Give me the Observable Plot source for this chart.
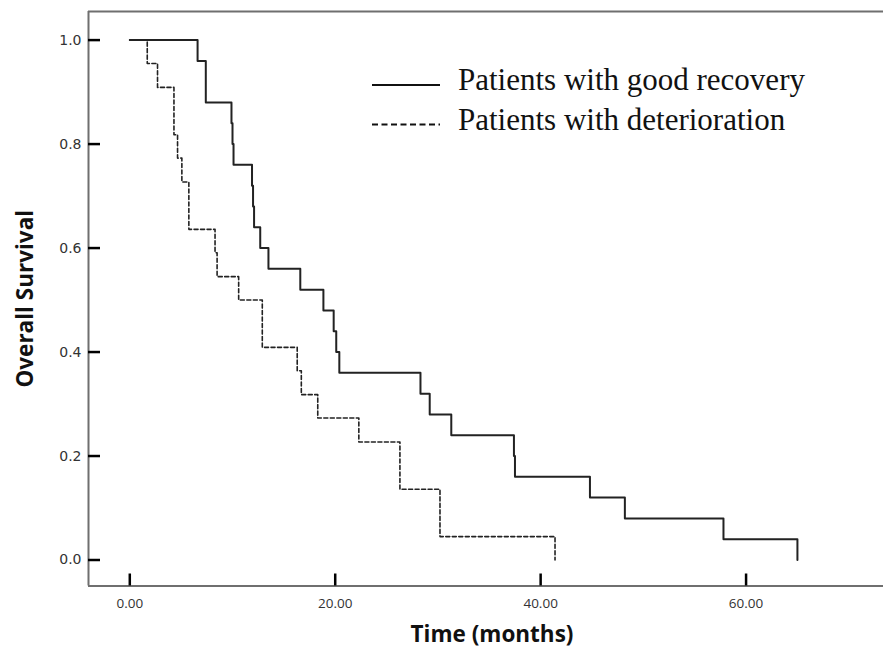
<!DOCTYPE html>
<html><head><meta charset="utf-8">
<script src="https://cdn.jsdelivr.net/npm/d3@7"></script>
<script src="https://cdn.jsdelivr.net/npm/@observablehq/plot@0.6"></script>
<style>
html,body{margin:0;padding:0;background:#fff;}
#wrap{position:relative;width:883px;height:655px;}
</style></head><body><div id="wrap"></div>
<script>
// Kaplan-Meier steps
const goodTimes = [0, 6.6, 7.4, 7.4, 9.9, 10.0, 10.1, 11.9, 12.0, 12.1, 12.7, 13.5, 16.6, 18.85, 19.85, 20.1, 20.4, 28.3, 29.2, 31.3, 37.4, 37.5, 44.8, 48.2, 57.8, 65.0];
const goodSurv  = [1.0, 0.96, 0.92, 0.88, 0.84, 0.80, 0.76, 0.72, 0.68, 0.64, 0.60, 0.56, 0.52, 0.48, 0.44, 0.40, 0.36, 0.32, 0.28, 0.24, 0.20, 0.16, 0.12, 0.08, 0.04, 0.0];
const detTimes  = [0, 1.7, 2.7, 4.3, 4.3, 4.65, 5.07, 5.75, 5.75, 8.3, 8.5, 10.6, 12.9, 12.9, 16.3, 16.7, 18.3, 22.3, 26.3, 26.3, 30.2, 30.2, 41.4];
const detSurv   = [1.0, 0.955, 0.909, 0.864, 0.818, 0.773, 0.727, 0.682, 0.636, 0.591, 0.545, 0.5, 0.455, 0.409, 0.364, 0.318, 0.273, 0.227, 0.182, 0.136, 0.091, 0.045, 0.0];
const yTicks = [0, 0.2, 0.4, 0.6, 0.8, 1.0];
const xTicks = [0, 20, 40, 60];
const legendLabels = ["Patients with good recovery", "Patients with deterioration"];
const xTitle = "Time (months)";
const yTitle = "Overall Survival";

const good = goodTimes.map((t, i) => ({t, s: goodSurv[i]}));
const det = detTimes.map((t, i) => ({t, s: detSurv[i]}));

const W = 883, H = 655, mT = 11, mB = 69.5, mL = 88, mR = 0;
const xDom = [-4.02, 73.38];
const yDom = [-0.05, 1.055];
const ink = "#222";
const frameCol = "#6f6f6f";
const tickLen = 12;

const chart = Plot.plot({
  width: W,
  height: H,
  marginTop: mT,
  marginBottom: mB,
  marginLeft: mL,
  marginRight: mR,
  x: {domain: xDom, label: null},
  y: {domain: yDom, label: null},
  style: {background: "#fff"},
  marks: [
    // frame (top, left, bottom)
    Plot.ruleY([yDom[1]], {stroke: frameCol, strokeWidth: 2}),
    Plot.ruleY([yDom[0]], {stroke: frameCol, strokeWidth: 2.2}),
    Plot.ruleX([xDom[0]], {stroke: frameCol, strokeWidth: 2}),
    Plot.axisY(yTicks, {tickSize: 0, tickPadding: 7, tickFormat: d3.format(".1f"), fontSize: 14, fill: "#333", fontFamily: "DejaVu Sans", label: null}),
    Plot.axisX(xTicks, {tickSize: 0, tickPadding: 12, tickFormat: d3.format(".2f"), fontSize: 13.5, fill: "#333", fontFamily: "Open Sans", label: null}),
    Plot.line(det, {x: "t", y: "s", curve: "step-after", stroke: ink, strokeWidth: 1.6, strokeDasharray: "4,2.5"}),
    Plot.line(good, {x: "t", y: "s", curve: "step-after", stroke: ink, strokeWidth: 2}),
    Plot.text([yTitle], {frameAnchor: "left", textAnchor: "middle", dx: -63, rotate: -90, fontSize: 22.5, fontWeight: "bold", fontFamily: "Open Sans", fill: "#111"}),
    Plot.text([xTitle], {frameAnchor: "bottom", dx: 6, dy: 55.5, fontSize: 22.5, fontWeight: "bold", fontFamily: "Open Sans", fill: "#111"}),
    // inward ticks
    Plot.ruleY(yTicks, {insetRight: (W - mL - mR) - tickLen, stroke: "#000", strokeWidth: 2.5}),
    Plot.ruleX(xTicks, {insetTop: (H - mT - mB) - tickLen, stroke: "#000", strokeWidth: 2.5})
  ]
});
document.getElementById("wrap").appendChild(chart);

// in-plot legend
const svg = d3.select(chart);
const lg = svg.append("g").attr("text-anchor", "start");
const rows = [{y: 85, dash: null, w: 2, base: 90}, {y: 124.5, dash: "6,3.5", w: 1.8, base: 130}];
rows.forEach((r, i) => {
  lg.append("line").attr("x1", 372).attr("x2", 440).attr("y1", r.y).attr("y2", r.y)
    .attr("stroke", "#111").attr("stroke-width", r.w).attr("stroke-dasharray", r.dash);
  lg.append("text").attr("x", 458).attr("y", r.base).attr("text-anchor", "start")
    .attr("font-family", "Liberation Serif, Times New Roman, serif").attr("font-size", 31)
    .attr("fill", "#111").text(legendLabels[i]);
});
</script>
</body></html>
